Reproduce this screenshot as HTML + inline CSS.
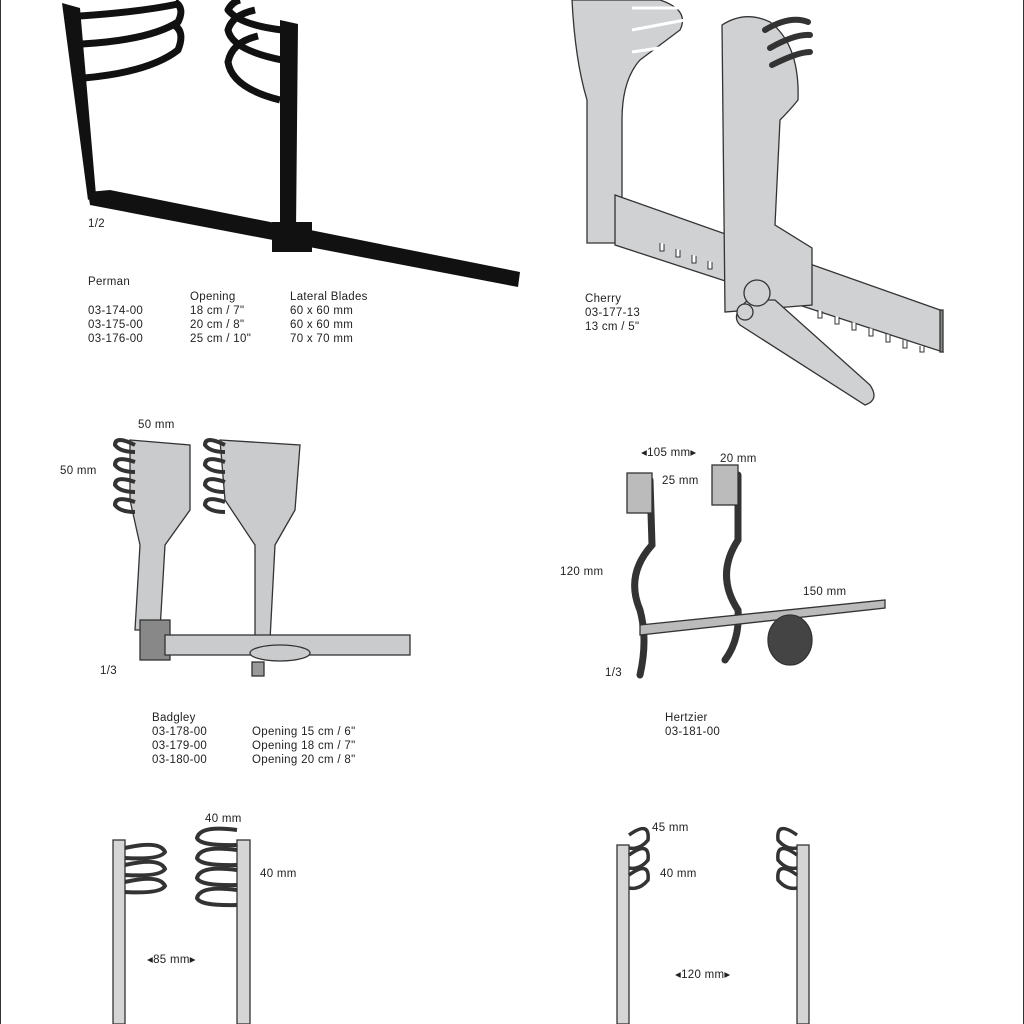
<!DOCTYPE html>
<html><head><meta charset="utf-8"><style>
html,body{margin:0;padding:0;background:#fff}
svg{display:block}
text{font-family:"Liberation Sans",sans-serif;font-size:11.5px;fill:#222;letter-spacing:0.3px}
</style></head><body>
<svg width="1024" height="1024" viewBox="0 0 1024 1024" xmlns="http://www.w3.org/2000/svg">
<rect x="0" y="0" width="1024" height="1024" fill="#fff"/>
<line x1="0.5" y1="0" x2="0.5" y2="1024" stroke="#333" stroke-width="1"/>
<line x1="1023.5" y1="0" x2="1023.5" y2="1024" stroke="#333" stroke-width="1"/>

<!-- Perman -->
<g fill="none" stroke="#111" stroke-linejoin="round">
 <polygon points="62,3 80,8 96,195 88,200" fill="#111" stroke="none"/>
 <polygon points="88,192 110,190 520,272 518,287 90,205" fill="#111" stroke="none"/>
 <polygon points="280,20 298,24 296,230 280,225" fill="#111" stroke="none"/>
 <rect x="272" y="222" width="40" height="30" fill="#111" stroke="none"/>
 <path d="M80,16 Q140,12 178,4" stroke-width="7"/>
 <path d="M82,44 Q150,40 178,22 Q185,8 175,2" stroke-width="7"/>
 <path d="M84,78 Q150,72 178,50 Q186,30 172,24" stroke-width="7"/>
 <path d="M282,30 Q240,25 228,10 Q232,2 240,0" stroke-width="7"/>
 <path d="M282,60 Q232,50 228,30 Q232,15 255,10" stroke-width="7"/>
 <path d="M280,100 Q232,88 228,62 Q232,42 258,36" stroke-width="7"/>
</g>
<text x="88" y="227" font-size="10">1/2</text>
<text x="88" y="285">Perman</text>
<text x="190" y="300">Opening</text><text x="290" y="300">Lateral Blades</text>
<text x="88" y="314">03-174-00</text><text x="190" y="314">18 cm / 7"</text><text x="290" y="314">60 x 60 mm</text>
<text x="88" y="328">03-175-00</text><text x="190" y="328">20 cm / 8"</text><text x="290" y="328">60 x 60 mm</text>
<text x="88" y="342">03-176-00</text><text x="190" y="342">25 cm / 10"</text><text x="290" y="342">70 x 70 mm</text>

<!-- Cherry -->
<g fill="#cfd1d3" stroke="#333" stroke-width="1.3">
 <path d="M572,0 L660,0 Q690,10 680,30 L640,60 Q622,80 622,120 L622,243 L587,243 L587,100 Q575,60 572,0Z"/>
 <path d="M615,195 L940,310 L943,352 L615,245Z"/>
 <rect x="940" y="310" width="3" height="42" fill="#888"/>
 <path d="M722,25 Q745,10 770,22 Q800,45 798,100 Q790,110 780,120 L775,225 L812,248 L812,305 L725,312 Z"/>
 <path d="M748,300 Q730,315 740,325 L865,405 Q880,400 870,385 L775,300 Z"/>
 <circle cx="757" cy="293" r="13"/>
 <circle cx="745" cy="312" r="8"/>
</g>
<g fill="#fff" stroke="#333" stroke-width="1">
 <path d="M660,243 l0,8 4,0 0,-7 M676,249 l0,8 4,0 0,-7 M692,255 l0,8 4,0 0,-7 M708,261 l0,8 4,0 0,-7"/>
 <path d="M818,310 l0,8 4,0 0,-7 M835,316 l0,8 4,0 0,-7 M852,322 l0,8 4,0 0,-7 M869,328 l0,8 4,0 0,-7 M886,334 l0,8 4,0 0,-7 M903,340 l0,8 4,0 0,-7 M920,346 l0,6 4,0 0,-6"/>
</g>
<g stroke="#333" stroke-width="6" fill="none" stroke-linecap="round">
 <path d="M765,30 Q790,15 808,22"/><path d="M770,48 Q795,34 810,35"/><path d="M772,65 Q798,52 810,52"/>
</g>
<g stroke="#fff" stroke-width="3" fill="none">
 <path d="M632,8 L680,8 M632,30 L685,20 M632,52 L680,45"/>
</g>
<text x="585" y="302">Cherry</text>
<text x="585" y="316">03-177-13</text>
<text x="585" y="330">13 cm / 5"</text>

<!-- Badgley -->
<g fill="#c9cbcd" stroke="#333" stroke-width="1.3">
 <path d="M130,440 L190,445 L190,510 L165,545 L160,630 L135,630 L140,545 L130,500Z"/>
 <path d="M220,440 L300,445 L295,510 L275,545 L270,640 L255,640 L255,545 L225,500Z"/>
 <rect x="140" y="620" width="30" height="40" fill="#888"/>
 <rect x="165" y="635" width="245" height="20"/>
 <ellipse cx="280" cy="653" rx="30" ry="8"/>
 <rect x="252" y="662" width="12" height="14" fill="#999"/>
</g>
<g fill="none" stroke="#333" stroke-width="4">
 <path d="M135,445 Q115,435 115,445 Q120,452 135,452"/>
 <path d="M135,462 Q115,455 115,465 Q120,472 135,472"/>
 <path d="M135,482 Q115,475 115,485 Q120,492 135,492"/>
 <path d="M135,502 Q115,495 115,505 Q120,512 135,512"/>
 <path d="M225,445 Q205,435 205,445 Q210,452 225,452"/>
 <path d="M225,462 Q205,455 205,465 Q210,472 225,472"/>
 <path d="M225,482 Q205,475 205,485 Q210,492 225,492"/>
 <path d="M225,502 Q205,495 205,505 Q210,512 225,512"/>
</g>
<text x="138" y="428">50 mm</text>
<text x="60" y="474">50 mm</text>
<text x="100" y="674" font-size="10">1/3</text>
<text x="152" y="721">Badgley</text>
<text x="152" y="735">03-178-00</text><text x="252" y="735">Opening 15 cm / 6"</text>
<text x="152" y="749">03-179-00</text><text x="252" y="749">Opening 18 cm / 7"</text>
<text x="152" y="763">03-180-00</text><text x="252" y="763">Opening 20 cm / 8"</text>

<!-- Hertzier -->
<g fill="none" stroke="#333" stroke-width="7" stroke-linecap="round">
 <path d="M650,480 L652,545 Q625,575 640,610 Q648,640 640,675"/>
 <path d="M738,475 L738,540 Q715,575 738,610 Q740,640 725,660"/>
</g>
<g fill="#bbb" stroke="#333" stroke-width="1.3">
 <rect x="627" y="473" width="25" height="40"/>
 <rect x="712" y="465" width="26" height="40"/>
 <path d="M640,625 L885,600 L885,608 L640,635Z"/>
 <ellipse cx="790" cy="640" rx="22" ry="25" fill="#444"/>
</g>
<text x="641" y="456">◂105 mm▸</text>
<text x="720" y="462">20 mm</text>
<text x="662" y="484">25 mm</text>
<text x="560" y="575">120 mm</text>
<text x="803" y="595">150 mm</text>
<text x="605" y="676" font-size="10">1/3</text>
<text x="665" y="721">Hertzier</text>
<text x="665" y="735">03-181-00</text>

<!-- bottom left -->
<g fill="#d5d5d5" stroke="#333" stroke-width="1.3">
 <rect x="113" y="840" width="12" height="184"/>
 <rect x="237" y="840" width="13" height="184"/>
</g>
<g fill="none" stroke="#333" stroke-width="4">
 <path d="M125,848 Q160,840 165,852 Q160,860 125,858"/>
 <path d="M125,865 Q160,857 165,869 Q160,877 125,875"/>
 <path d="M125,882 Q160,874 165,886 Q160,894 125,892"/>
 <path d="M237,830 Q200,825 197,838 Q200,846 237,845"/>
 <path d="M237,850 Q200,845 197,858 Q200,866 237,865"/>
 <path d="M237,870 Q200,865 197,878 Q200,886 237,885"/>
 <path d="M237,890 Q200,885 197,898 Q200,906 237,905"/>
</g>
<text x="205" y="822">40 mm</text>
<text x="260" y="877">40 mm</text>
<text x="147" y="963">◂85 mm▸</text>

<!-- bottom right -->
<g fill="#d5d5d5" stroke="#333" stroke-width="1.3">
 <rect x="617" y="845" width="12" height="179"/>
 <rect x="797" y="845" width="12" height="179"/>
</g>
<g fill="none" stroke="#333" stroke-width="3.5">
 <path d="M629,835 Q650,820 648,840 Q640,850 629,848"/>
 <path d="M629,855 Q650,840 648,860 Q640,870 629,868"/>
 <path d="M629,875 Q650,860 648,880 Q640,890 629,888"/>
 <path d="M797,835 Q776,820 778,840 Q786,850 797,848"/>
 <path d="M797,855 Q776,840 778,860 Q786,870 797,868"/>
 <path d="M797,875 Q776,860 778,880 Q786,890 797,888"/>
</g>
<text x="652" y="831">45 mm</text>
<text x="660" y="877">40 mm</text>
<text x="675" y="978">◂120 mm▸</text>
</svg>
</body></html>
